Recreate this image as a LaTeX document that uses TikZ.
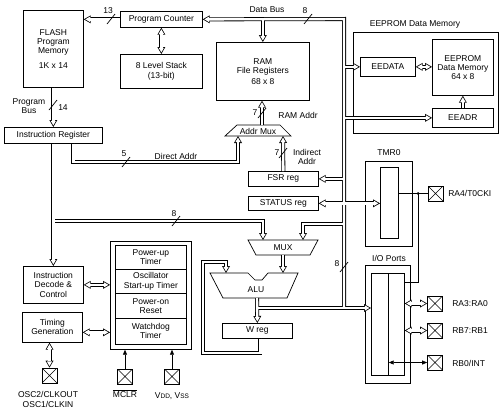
\documentclass[tikz,border=0pt]{standalone}
\usepackage{fontspec}
\setmainfont{Liberation Sans}
\usetikzlibrary{arrows.meta,calc}
\newcommand\bx[6]{\node[box, minimum width=#4pt, minimum height=#5pt] (#1) at (#2,#3) {#6};}
\newcommand\sla[2]{\draw[line width=0.7pt] (#1-4,#2+5) -- ++(8,-10);}
\newcommand\busnet{%
  \draw[bl,ar] (pc.west) -- (flash.east |- pc.west);
  \draw[bl,arr] (pc.south) -- (stack.north);
  \draw[bl,ar] (flash.south) -- (ir.north);
  \draw[bl,ar] (ir.south) -- (idc.north);
  \draw[bl,ar] (j8) -| (muxin1);
  \draw[bl,ar] ([xshift=20pt]ir.south) |- (dac) -- (amin1);
  \draw[bl,ar] (amout) -- (amout |- ram.south);
  \draw[bl,ar] (fsr.north) -- (amin2);
  \draw[bl,ar] (jio) -- (dbtr) -- (pc.east);
  \draw[bl,ar] (ram.north |- pc.east) -- (ram.north);
  \draw[bl,ar] (eedata.west -| dbtr) -- (eedata.west);
  \draw[bl,ar] (eeadr.west -| dbtr) -- (eeadr.west);
  \draw[bl,ar] (fsr.east -| dbtr) -- (fsr.east);
  \draw[bl,arr] (status.east) -- (tmrin.west |- status.east);
  \draw[bl,ar] (mj) -| (muxin2);
  \draw[bl,ar] (muxout) -- (aluin2);
  \draw[bl,ar] (aluout) -- (wreg.north);
  \draw[bl,ar] (jalu) -- (ioL.west |- jalu);
  \draw[bl,ar] ([xshift=3pt]wreg.south) |- (wl1) |- (wl2) -- (aluin1);
  \draw[bl,arr] (idc.east) -- (reset.west |- idc.east);
  \draw[bl,arr] (tg) -- (tg -| reset.west);
  \draw[bl,arr] (osc.north |- timing.south) -- (osc.north);
  \draw[bl,arr] (eedata.east) -- (eedata.east -| eemem.west);
  \draw[bl,ar] (eeadr.north) -- (eemem.south);
  \draw[bl,arr] (ra3.west -| ioR.east) -- (ra3.west);
  \draw[bl,arr] (rb7.west -| ioR.east) -- (rb7.west);
}
\begin{document}
\begin{tikzpicture}[x=1pt,y=-1pt, font=\fontsize{8.5}{9.2}\selectfont, line width=0.7pt,
  box/.style={draw, inner sep=0pt, align=center, anchor=north west},
  pin/.style={draw, minimum size=15pt, inner sep=0pt,
    path picture={\draw[line width=0.6pt] (path picture bounding box.north west) -- (path picture bounding box.south east)
      (path picture bounding box.north east) -- (path picture bounding box.south west);}},
  lbl/.style={inner sep=0pt, align=center},
  tarr/.style={-{Triangle[length=5pt,width=4pt]}},
  tarr2/.style={{Triangle[length=5pt,width=4pt]}-{Triangle[length=5pt,width=4pt]}}]
\useasboundingbox (0,0) rectangle (500,410);

% boxes
\bx{flash}{23}{10}{60}{77}{FLASH\\Program\\Memory\\[5pt]1K x 14}
\bx{pc}{120}{11}{82}{16}{Program Counter}
\bx{stack}{120}{54}{82}{34}{8 Level Stack\\(13-bit)}
\bx{ir}{4}{127}{98}{16}{Instruction Register}
\bx{ram}{216}{42}{93}{58}{RAM\\File Registers\\[2pt]68 x 8}
\bx{fsr}{248}{171}{70}{15}{FSR reg}
\bx{status}{248}{196}{70}{14}{STATUS reg}
\bx{wreg}{222}{323}{70}{15}{W reg}
\bx{eeouter}{353}{32}{145}{101}{}
\bx{eedata}{360}{57}{55}{19}{EEDATA}
\bx{eemem}{432}{39}{61}{56}{EEPROM\\Data Memory\\64 x 8}
\bx{eeadr}{432}{108}{61}{19}{EEADR}
\bx{tmr}{365}{161}{47}{85}{}
\bx{tmrin}{380}{167}{18}{71}{}
\bx{io}{365}{265}{45}{118}{}
\bx{ioL}{371}{273}{17}{102}{}
\bx{ioR}{388}{273}{16}{102}{}
\bx{idc}{23}{266}{60}{37}{Instruction\\Decode \&\\Control}
\bx{timing}{22}{312}{60}{30}{Timing\\Generation}
\bx{reset}{110}{241}{81}{108}{}
\bx{rs1}{115}{245}{71}{24}{Power-up\\Timer}
\bx{rs2}{115}{269}{71}{24}{Oscillator\\Start-up Timer}
\bx{rs3}{115}{293}{71}{25}{Power-on\\Reset}
\bx{rs4}{115}{318}{71}{26}{Watchdog\\Timer}

% muxes and ALU
\draw (237,125) -- (280,125) -- (291,136) -- (225,136) -- cycle;
\node[lbl] (amtxt) at (258,131) {Addr Mux};
\draw (248,240) -- (318,240) -- (310,255) -- (256,255) -- cycle;
\node[lbl] (muxtxt) at (283,248) {MUX};
\draw (210,273) -- (248,273) -- (255,280) -- (262,280) -- (268,273) -- (298,273) -- (287,298) -- (223,298) -- cycle;
\node[lbl] (alutxt) at (256,290) {ALU};

% pins
\node[pin] (osc) at (49.5,375.5) {};
\node[pin] (mclr) at (125,376.5) {};
\node[pin] (vdd) at (172,376.5) {};
\node[pin] (ra4) at (435.5,193.5) {};
\node[pin] (ra3) at (435,303.5) {};
\node[pin] (rb7) at (435,330.5) {};
\node[pin] (rb0) at (435,362.5) {};

% junction coordinates
\coordinate (j8) at (53,221);
\coordinate (muxin1) at (263,240);
\coordinate (muxin2) at (303,240);
\coordinate (dac) at (238,162);
\coordinate (amin1) at (238,136);
\coordinate (amin2) at (283,136);
\coordinate (amout) at (262,125);
\coordinate (jio) at (344,308);
\coordinate (dbtr) at (344,19);
\coordinate (mj) at (344,224);
\coordinate (muxout) at (283,255);
\coordinate (aluin2) at (283,273);
\coordinate (aluout) at (257,298);
\coordinate (jalu) at (257,308);
\coordinate (wl1) at (203,353);
\coordinate (wl2) at (226,262);
\coordinate (aluin1) at (226,273);
\coordinate (tg) at ([yshift=-5pt]timing.east);

% buses: outer pass then inner pass
\begin{scope}[bl/.style={line width=4pt, draw=black},
  ar/.style={-{Triangle[length=7pt,width=8pt,line width=0pt]}},
  arr/.style={{Triangle[length=7pt,width=8pt,line width=0pt]}-{Triangle[length=7pt,width=8pt,line width=0pt]}}]
\busnet
\end{scope}
\begin{scope}[bl/.style={line width=2.4pt, draw=white},
  ar/.style={-{Triangle[length=4.6pt,width=5.3pt,line width=0pt]}, shorten >=1.6pt},
  arr/.style={{Triangle[length=4.6pt,width=5.3pt,line width=0pt]}-{Triangle[length=4.6pt,width=5.3pt,line width=0pt]}, shorten >=1.6pt, shorten <=1.6pt}]
\busnet
\end{scope}

% thin connectors
\draw[tarr] (mclr.north) -- (mclr.north |- reset.south);
\draw[tarr] (vdd.north) -- (vdd.north |- reset.south);
\draw[tarr2] (rb0.west -| ioL.east) -- (rb0.west);
\draw (tmrin.east |- ra4.west) -- (ra4.west);
\coordinate (dot) at (418,193.5);
\coordinate (tj) at (418,282);
\fill (dot) circle (1.5pt);
\draw (dot) -- (tj) -- (tj -| ioR.east);

% bus width marks
\sla{111}{19}
\sla{53}{105}
\sla{308}{19}
\sla{262}{113}
\sla{283}{153}
\sla{126}{162}
\sla{176}{221}
\sla{344}{267}

% labels
\node[lbl] (l13) at (108,11) {13};
\node[lbl] (lpb) at (29,106) {Program\\Bus};
\node[lbl] (l14) at (63,108) {14};
\node[lbl] (ldb) at (267,10) {Data Bus};
\node[lbl] (l8a) at (305,11) {8};
\node[lbl] (l7a) at (255,113) {7};
\node[lbl] (lram) at (298,115) {RAM Addr};
\node[lbl] (l7b) at (277,153) {7};
\node[lbl] (lind) at (307,157) {Indirect\\Addr};
\node[lbl] (l5) at (124,154) {5};
\node[lbl] (lda) at (176,156) {Direct Addr};
\node[lbl] (l8b) at (174,214) {8};
\node[lbl] (l8c) at (337,264) {8};
\node[lbl] (lee) at (415,24) {EEPROM Data Memory};
\node[lbl] (ltmr) at (389,153) {TMR0};
\node[lbl] (lio) at (389,258) {I/O Ports};
\node[lbl, anchor=west] (lra4) at (448,193.5) {RA4/T0CKI};
\node[lbl, anchor=west] (lra3) at (452,304) {RA3:RA0};
\node[lbl, anchor=west] (lrb7) at (452,331) {RB7:RB1};
\node[lbl, anchor=west] (lrb0) at (452,363) {RB0/INT};
\node[lbl] (losc) at (48,399.5) {OSC2/CLKOUT\\OSC1/CLKIN};
\node[lbl] (lmclr) at (125,394) {$\overline{\hbox{MCLR}}$};
\node[lbl] (lvdd) at (172,396) {V{\fontsize{6.5}{7}\selectfont DD}, V{\fontsize{6.5}{7}\selectfont SS}};
\end{tikzpicture}
\end{document}
